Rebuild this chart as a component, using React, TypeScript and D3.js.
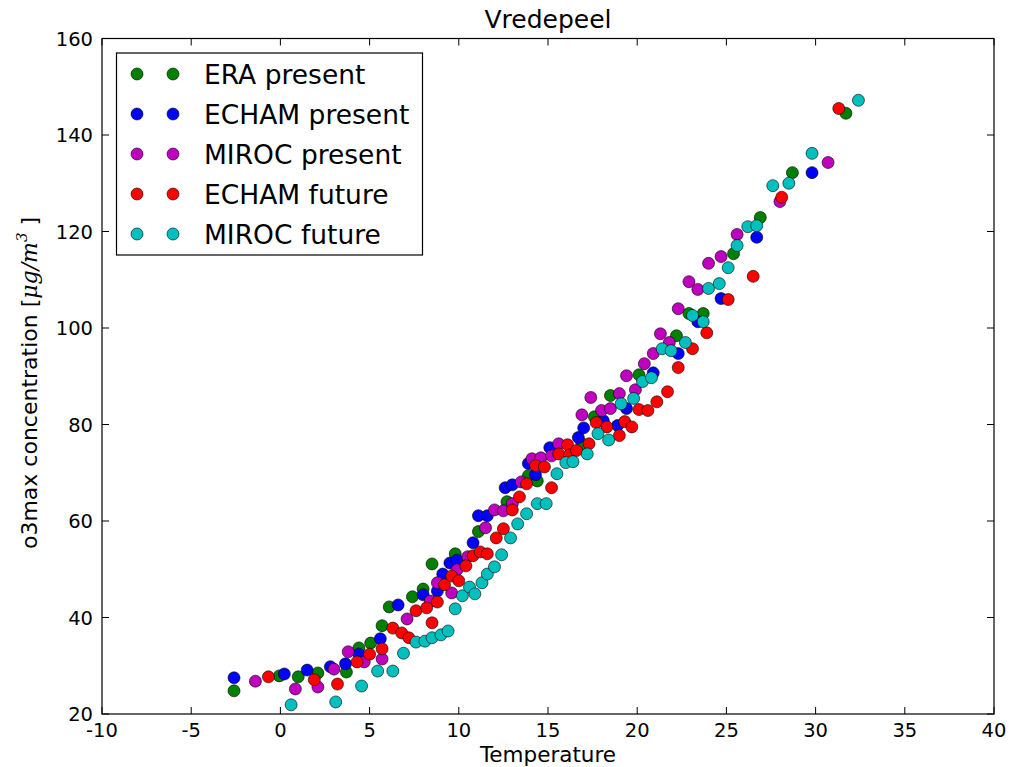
import React from "react";
import * as d3 from "d3";

type P = [number, number];

const eraPresent: P[] = [
  [-2.6, 24.8], [-0.06, 27.9], [1.0, 27.7], [2.1, 28.5], [3.7, 28.7], [4.4, 33.7], [5.06, 34.7],
  [5.7, 38.3], [6.1, 42.2], [7.4, 44.3], [8.0, 45.9], [8.5, 51.1], [9.8, 53.2], [11.1, 57.8],
  [12.7, 64.0], [13.9, 69.4], [14.4, 68.3], [16.9, 76.0], [17.6, 81.6], [18.5, 86.0], [20.1, 90.3],
  [22.2, 98.4], [22.9, 103.0], [23.7, 103.0], [25.4, 115.4], [26.9, 122.9], [28.7, 132.2], [31.7, 144.5],
];

const echamPresent: P[] = [
  [-2.6, 27.5], [0.22, 28.3], [1.5, 29.1], [2.8, 29.8], [3.65, 30.4], [4.4, 32.4], [5.6, 35.6],
  [6.6, 42.6], [8.0, 44.7], [8.8, 45.5], [9.1, 49.0], [9.5, 51.3], [9.9, 51.9], [10.8, 55.5],
  [11.1, 61.1], [11.6, 61.1], [12.6, 66.9], [13.0, 67.5], [13.9, 71.9], [14.3, 69.6], [15.1, 75.2],
  [16.7, 77.3], [17.0, 79.3], [18.1, 80.8], [18.9, 79.8], [19.4, 83.3], [20.9, 90.7], [22.3, 94.7],
  [23.4, 101.3], [24.7, 106.1], [26.7, 118.8], [29.8, 132.2],
];

const mirocPresent: P[] = [
  [-1.4, 26.8], [0.84, 25.2], [2.1, 25.6], [3.0, 29.3], [3.8, 32.9], [4.7, 30.8], [5.7, 31.4],
  [7.1, 39.7], [8.4, 43.4], [8.8, 47.2], [9.6, 45.1], [9.9, 49.9], [10.5, 52.6], [11.5, 58.6],
  [12.0, 62.3], [12.5, 62.1], [13.0, 63.6], [13.5, 68.1], [14.1, 72.9], [14.6, 73.1], [15.2, 73.5],
  [15.6, 76.0], [16.9, 82.0], [17.4, 85.6], [18.0, 82.9], [18.5, 83.3], [19.0, 86.4], [19.4, 90.1],
  [19.9, 87.2], [20.4, 92.6], [20.9, 94.7], [21.3, 98.8], [21.8, 97.0], [22.3, 104.0], [22.9, 109.6],
  [23.4, 108.0], [24.0, 113.4], [24.7, 114.8], [25.6, 119.4], [28.0, 126.2], [30.7, 134.3],
];

const echamFuture: P[] = [
  [-0.67, 27.7], [1.9, 27.1], [3.2, 26.2], [4.3, 30.8], [5.0, 32.4], [5.7, 33.5], [6.3, 37.8],
  [6.8, 36.8], [7.2, 35.8], [7.6, 41.4], [8.2, 42.0], [8.5, 38.9], [8.8, 43.2], [9.2, 46.8],
  [9.6, 48.6], [10.0, 47.6], [10.4, 50.7], [10.8, 52.8], [11.2, 53.6], [11.6, 53.2], [12.1, 56.5],
  [12.5, 58.4], [13.0, 62.3], [13.4, 65.0], [13.8, 67.7], [14.3, 71.5], [14.8, 71.2], [15.2, 66.9],
  [15.6, 73.9], [16.1, 75.8], [16.2, 73.7], [16.6, 74.6], [17.3, 76.0], [17.7, 80.4], [18.3, 79.5],
  [19.0, 77.7], [19.3, 80.6], [19.7, 79.5], [20.1, 83.1], [20.6, 82.9], [21.1, 84.7], [21.7, 86.8],
  [22.3, 91.8], [23.1, 95.7], [23.9, 99.0], [25.1, 105.9], [26.5, 110.7], [28.1, 127.1], [31.3, 145.5],
];

const mirocFuture: P[] = [
  [0.6, 21.9], [3.1, 22.5], [4.55, 25.8], [5.45, 28.9], [6.3, 28.9], [6.9, 32.6], [7.6, 34.9],
  [8.1, 35.1], [8.5, 35.8], [9.0, 36.4], [9.4, 37.2], [9.8, 41.8], [10.2, 44.5], [10.6, 46.3],
  [10.9, 44.9], [11.3, 47.2], [11.6, 49.0], [12.0, 50.5], [12.4, 53.0], [12.9, 56.5], [13.3, 59.4],
  [13.8, 61.5], [14.4, 63.6], [14.9, 63.6], [15.5, 69.8], [16.0, 72.1], [16.4, 72.3], [17.2, 73.9],
  [17.8, 78.1], [18.4, 76.8], [19.1, 84.3], [19.8, 85.4], [20.3, 88.9], [20.8, 89.7], [21.4, 95.7],
  [21.9, 95.3], [22.7, 97.0], [23.1, 102.6], [23.7, 101.3], [24.0, 108.2], [24.6, 109.2], [25.1, 112.5],
  [25.6, 117.1], [26.2, 121.0], [26.7, 121.2], [27.6, 129.5], [28.5, 130.0], [29.8, 136.2], [32.4, 147.2],
];

const seriesNames = ["ERA present", "ECHAM present", "MIROC present", "ECHAM future", "MIROC future"];
const seriesColors = ["#008000", "#0000ff", "#bf00bf", "#ff0000", "#00bfbf"];
const seriesData = [eraPresent, echamPresent, mirocPresent, echamFuture, mirocFuture];

const xTicks = [-10, -5, 0, 5, 10, 15, 20, 25, 30, 35, 40];
const yTicks = [20, 40, 60, 80, 100, 120, 140, 160];

const W = 1009;
const H = 767;
const L = 102, R = 994, T = 38.5, B = 714;
const FONT = "'DejaVu Sans', sans-serif";

export default function App() {
  const x = d3.scaleLinear().domain([-10, 40]).range([L, R]);
  const y = d3.scaleLinear().domain([20, 160]).range([B, T]);
  const tl = 7;
  const r = 6;

  return (
    <svg width={W} height={H} style={{ position: "absolute", left: 0, top: 0, background: "#fff" }} fontFamily={FONT}>
      <rect x={0} y={0} width={W} height={H} fill="#fff" />
      <text x={(L + R) / 2} y={28} textAnchor="middle" fontSize={25} fill="#000">Vredepeel</text>

      {seriesData.map((data, si) => (
        <g key={si}>
          {data.map((d, i) => (
            <circle key={i} cx={x(d[0])} cy={y(d[1])} r={r} fill={seriesColors[si]} stroke="#000" strokeWidth={0.6} />
          ))}
        </g>
      ))}

      <rect x={L} y={T} width={R - L} height={B - T} fill="none" stroke="#000" strokeWidth={1.2} />

      {xTicks.map((t) => (
        <g key={"x" + t}>
          <line x1={x(t)} x2={x(t)} y1={B} y2={B - tl} stroke="#000" />
          <line x1={x(t)} x2={x(t)} y1={T} y2={T + tl} stroke="#000" />
          <text x={x(t)} y={736.5} textAnchor="middle" fontSize={19.5} fill="#000">{t}</text>
        </g>
      ))}
      {yTicks.map((t) => (
        <g key={"y" + t}>
          <line x1={L} x2={L + tl} y1={y(t)} y2={y(t)} stroke="#000" />
          <line x1={R} x2={R - tl} y1={y(t)} y2={y(t)} stroke="#000" />
          <text x={L - 9} y={y(t) + 7.2} textAnchor="end" fontSize={19.5} fill="#000">{t}</text>
        </g>
      ))}

      <text x={(L + R) / 2} y={762} textAnchor="middle" fontSize={21.5} fill="#000">Temperature</text>

      <text transform={`translate(37, 383) rotate(-90)`} textAnchor="middle" fontSize={22} fill="#000">
        <tspan>o3max concentration [</tspan>
        <tspan fontStyle="italic" fontFamily="'DejaVu Serif', serif">μg/m</tspan>
        <tspan fontStyle="italic" fontFamily="'DejaVu Serif', serif" fontSize={15} dy={-10}>3</tspan>
        <tspan dy={10}> ]</tspan>
      </text>

      <rect x={116.5} y={53} width={306} height={202} fill="#fff" stroke="#000" strokeWidth={1.2} />
      {seriesNames.map((n, i) => {
        const yy = 74 + i * 40;
        return (
          <g key={n}>
            <circle cx={137} cy={yy} r={6} fill={seriesColors[i]} stroke="#000" strokeWidth={0.6} />
            <circle cx={173} cy={yy} r={6} fill={seriesColors[i]} stroke="#000" strokeWidth={0.6} />
            <text x={204} y={yy + 10} fontSize={26.5} fill="#000">{n}</text>
          </g>
        );
      })}
    </svg>
  );
}
